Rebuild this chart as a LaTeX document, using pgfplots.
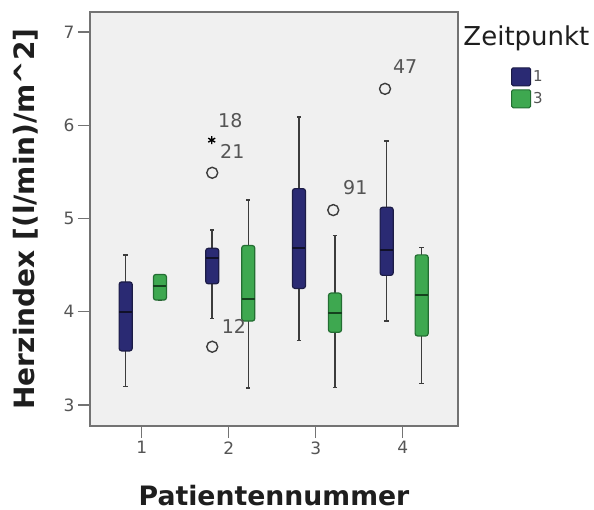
\documentclass[border=0pt]{standalone}
\usepackage{fontspec}
\setmainfont{DejaVu Sans}
\usepackage{pgfplots}
\pgfplotsset{compat=1.18}
\usepgfplotslibrary{statistics}

\definecolor{bgc}{RGB}{240,240,240}
\definecolor{framec}{RGB}{115,115,115}
\definecolor{bluefill}{RGB}{42,42,115}
\definecolor{blueedge}{RGB}{28,28,70}
\definecolor{greenfill}{RGB}{62,168,80}
\definecolor{greenedge}{RGB}{35,110,50}
\definecolor{whisk}{RGB}{60,60,60}
\definecolor{txt}{RGB}{30,30,30}
\definecolor{ticktxt}{RGB}{85,85,85}

\pgfplotsset{
  mybox/.style 2 args={
    draw=whisk, line width=1.5bp,
    boxplot/draw direction=y,
    boxplot/every box/.style={draw=#2, fill=#1, line width=1.2bp, rounded corners=2.5bp},
    boxplot/every whisker/.style={draw=whisk, line width=1.5bp},
    boxplot/every median/.style={draw=#2!60!black, line width=2.2bp},
  },
  bluebox/.style={mybox={bluefill}{blueedge}},
  greenbox/.style={mybox={greenfill}{greenedge}},
}

\begin{document}
\begin{tikzpicture}
\useasboundingbox (-90bp,-84bp) rectangle (504bp,426bp);
\begin{axis}[
    width=368bp, height=414bp,
    scale only axis,
    xmin=0.406, xmax=4.636,
    ymin=2.775, ymax=7.214,
    xtick={1,2,3,4},
    ytick={3,4,5,6,7},
    xtick pos=bottom, ytick pos=left,
    tick align=outside,
    major tick length=12bp,
    tick style={draw=framec, line width=1.3bp},
    axis line style={draw=framec, line width=1.4bp},
    axis background/.style={fill=bgc},
    /pgf/number format/assume math mode=true,
    ticklabel style={font=\fontsize{17bp}{20bp}\selectfont, text=ticktxt},
    xlabel={Patientennummer},
    ylabel={Herzindex [(l/min)/m\textasciicircum 2]},
    label style={text=txt},
    xlabel style={font=\fontsize{26.7bp}{30bp}\selectfont\bfseries,
        at={(axis description cs:0.5,0)}, anchor=base, yshift=-79bp},
    ylabel style={font=\fontsize{28bp}{32bp}\selectfont\bfseries,
        at={(axis description cs:0,0.5)}, anchor=center, yshift=64bp},
    clip=false,
    legend style={draw=none, fill=none, at={(rel axis cs:1.144,0.867)}, anchor=north west,
        font=\fontsize{15bp}{18bp}\selectfont, text=ticktxt, row sep=3bp, inner sep=0pt,
        /tikz/every even column/.append style={column sep=4bp}},
    legend cell align=left,
    legend image code/.code={\draw[#1, rounded corners=1.5bp] (0bp,-9bp) rectangle (19bp,9bp);},
]
\addlegendimage{fill=bluefill, draw=blueedge, line width=1bp}
\addlegendentry{1}
\addlegendimage{fill=greenfill, draw=greenedge, line width=1bp}
\addlegendentry{3}

% Zeitpunkt 1
\addplot[bluebox, boxplot prepared={draw position=0.816, lower whisker=3.196, lower quartile=3.58,
    median=4.00, upper quartile=4.32, upper whisker=4.607, box extend=0.15, whisker extend=0.05}] coordinates {};
\addplot[bluebox, boxplot prepared={draw position=1.811, lower whisker=3.93, lower quartile=4.30,
    median=4.58, upper quartile=4.68, upper whisker=4.875, box extend=0.15, whisker extend=0.05}] coordinates {};
\addplot[bluebox, boxplot prepared={draw position=2.808, lower whisker=3.69, lower quartile=4.25,
    median=4.68, upper quartile=5.32, upper whisker=6.09, box extend=0.15, whisker extend=0.05}] coordinates {};
\addplot[bluebox, boxplot prepared={draw position=3.816, lower whisker=3.90, lower quartile=4.39,
    median=4.66, upper quartile=5.12, upper whisker=5.83, box extend=0.15, whisker extend=0.05}] coordinates {};

% Zeitpunkt 3
\addplot[greenbox, boxplot prepared={draw position=1.210, lower whisker=4.125, lower quartile=4.125,
    median=4.275, upper quartile=4.40, upper whisker=4.40, box extend=0.15, whisker extend=0.05}] coordinates {};
\addplot[greenbox, boxplot prepared={draw position=2.225, lower whisker=3.18, lower quartile=3.90,
    median=4.14, upper quartile=4.71, upper whisker=5.196, box extend=0.15, whisker extend=0.05}] coordinates {};
\addplot[greenbox, boxplot prepared={draw position=3.222, lower whisker=3.19, lower quartile=3.78,
    median=3.99, upper quartile=4.20, upper whisker=4.82, box extend=0.15, whisker extend=0.05}] coordinates {};
\addplot[greenbox, boxplot prepared={draw position=4.218, lower whisker=3.23, lower quartile=3.74,
    median=4.18, upper quartile=4.61, upper whisker=4.69, box extend=0.15, whisker extend=0.05}] coordinates {};

% Ausreisser
\addplot[only marks, mark=o, mark size=5.5bp, mark options={draw=whisk, line width=1.4bp}]
  coordinates {(1.811,5.49) (1.811,3.625) (3.202,5.09) (3.797,6.39)};
\addplot[only marks, mark=asterisk, mark size=4bp, mark options={draw=black, line width=1.4bp}]
  coordinates {(1.805,5.84)};

\begin{scope}[every node/.style={font=\fontsize{19bp}{22bp}\selectfont, text=ticktxt, inner sep=0pt, anchor=west}]
\node at (axis cs:1.877,6.055) {18};
\node at (axis cs:1.900,5.715) {21};
\node at (axis cs:1.920,3.840) {12};
\node at (axis cs:3.314,5.326) {91};
\node at (axis cs:3.888,6.633) {47};
\end{scope}

\node[font=\fontsize{26bp}{30bp}\selectfont, text=txt] at (rel axis cs:1.186,0.937) {Zeitpunkt};
\end{axis}
\end{tikzpicture}
\end{document}
